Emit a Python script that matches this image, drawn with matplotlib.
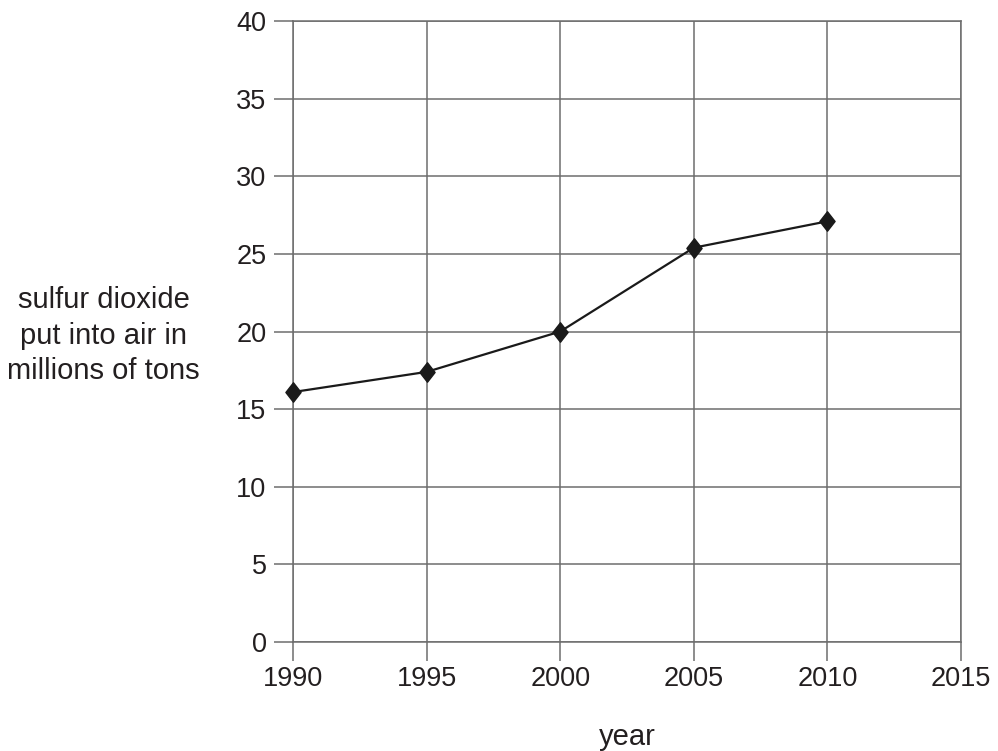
import matplotlib
matplotlib.use("Agg")
import matplotlib.pyplot as plt
from matplotlib.path import Path

# data
years = [1990, 1995, 2000, 2005, 2010]
so2_millions_tons = [16.1, 17.4, 20.0, 25.4, 27.1]

x_ticks = [1990, 1995, 2000, 2005, 2010, 2015]
y_ticks = [0, 5, 10, 15, 20, 25, 30, 35, 40]

plt.rcParams["font.family"] = ["Liberation Sans", "DejaVu Sans"]
text_color = "#231f20"
grid_color = "#6d6d6d"

fig = plt.figure(figsize=(9.98, 7.51), dpi=100)
ax = fig.add_axes([0.2936, 0.1451, 0.963 - 0.2936, 0.972 - 0.1451])

# slightly tall diamond marker
diamond = Path([(0, 1), (0.78, 0), (0, -1), (-0.78, 0), (0, 1)],
               [Path.MOVETO, Path.LINETO, Path.LINETO, Path.LINETO, Path.CLOSEPOLY])

ax.plot(years, so2_millions_tons, color="#1a1a1a", lw=1.6,
        marker=diamond, markersize=14, markerfacecolor="#1a1a1a",
        markeredgecolor="#1a1a1a", zorder=3, clip_on=False)

ax.set_xlim(1990, 2015)
ax.set_ylim(0, 40)
ax.set_xticks(x_ticks)
ax.set_yticks(y_ticks)
ax.grid(True, color=grid_color, lw=1.1)
for s in ax.spines.values():
    s.set_color(grid_color)
    s.set_linewidth(1.1)

ax.tick_params(axis="both", length=14, width=1.1, color=grid_color,
               labelsize=19.5, labelcolor=text_color)
ax.tick_params(axis="x", pad=3)
ax.tick_params(axis="y", pad=5)

fig.text(0.104, 0.553, "sulfur dioxide\nput into air in\nmillions of tons",
         ha="center", va="center", fontsize=21, color=text_color,
         linespacing=1.33)
fig.text(0.629, 0.019, "year", ha="center", va="center",
         fontsize=21, color=text_color)

fig.savefig("out.png", dpi=100)
